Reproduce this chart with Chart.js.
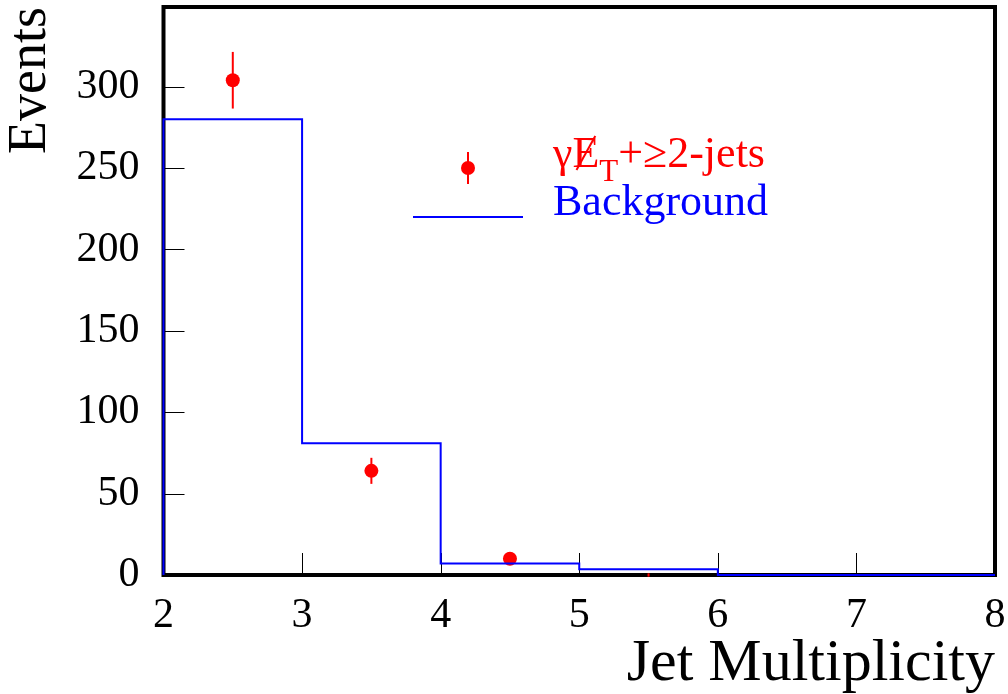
<!DOCTYPE html>
<html>
<head>
<meta charset="utf-8">
<script src="https://cdn.jsdelivr.net/npm/chart.js@4.4.0/dist/chart.umd.min.js"></script>
<style>
  html, body { margin: 0; padding: 0; background: #fff; }
  canvas { display: block; }
</style>
</head>
<body>
<canvas id="chart0" width="1008" height="694"></canvas>
<script>
// histogram bins (jet multiplicity)
const binEdges = [2, 3, 4, 5, 6, 7, 8];
// expected background per bin
const background = [280, 81, 7, 3.5, 0, 0];
// observed events: bin centres, counts, stat. errors
const dataX = [2.5, 3.5, 4.5, 5.5, 6.5, 7.5];
const dataY = [304, 64, 10, 0, 0, 0];
const dataErr = [17.4, 8, 3.2, 1, 0, 0];
// axis ticks
const xTicks = [2, 3, 4, 5, 6, 7, 8];
const yTicks = [0, 50, 100, 150, 200, 250, 300];

const SERIF = "'Liberation Serif', 'Times New Roman', serif";
const RED = '#ff0000';
const BLUE = '#0000ff';

Chart.defaults.font.family = SERIF;
Chart.defaults.color = '#000';

// step line points built from the bins
const bgPoints = [{ x: binEdges[0], y: 0 }];
background.forEach((v, i) => bgPoints.push({ x: binEdges[i], y: v }));
bgPoints.push({ x: binEdges[binEdges.length - 1], y: background[background.length - 1] });

const dataPoints = dataX.map((x, i) => ({ x, y: dataY[i] }));

function noPad(s) {
  s.paddingTop = 0; s.paddingBottom = 0; s.paddingLeft = 0; s.paddingRight = 0;
}

// frame + inward ticks + error bars + legend
const framePlugin = {
  id: 'frame',
  beforeDatasetsDraw(chart) {
    const { ctx, chartArea: a, scales } = chart;
    ctx.save();
    ctx.strokeStyle = '#000';
    ctx.lineWidth = 1;
    xTicks.forEach(v => {
      const px = Math.round(scales.x.getPixelForValue(v)) + 0.5;
      ctx.beginPath();
      ctx.moveTo(px, a.bottom);
      ctx.lineTo(px, a.bottom - 22);
      ctx.stroke();
    });
    yTicks.forEach(v => {
      const py = Math.round(scales.y.getPixelForValue(v)) + 0.5;
      ctx.beginPath();
      ctx.moveTo(a.left, py);
      ctx.lineTo(a.left + 21, py);
      ctx.stroke();
    });
    ctx.lineWidth = 4;
    ctx.strokeRect(a.left, a.top, a.right - a.left, a.bottom - a.top);

    // error bars
    ctx.strokeStyle = RED;
    ctx.lineWidth = 2;
    dataX.forEach((x, i) => {
      if (!dataErr[i]) return;
      const px = scales.x.getPixelForValue(x);
      ctx.beginPath();
      ctx.moveTo(px, scales.y.getPixelForValue(dataY[i] - dataErr[i]));
      ctx.lineTo(px, scales.y.getPixelForValue(dataY[i] + dataErr[i]));
      ctx.stroke();
    });
    ctx.restore();
  },
  afterDraw(chart) {
    const { ctx } = chart;
    ctx.save();
    // legend markers
    ctx.strokeStyle = RED;
    ctx.fillStyle = RED;
    ctx.lineWidth = 2;
    ctx.beginPath();
    ctx.moveTo(468, 152);
    ctx.lineTo(468, 184);
    ctx.stroke();
    ctx.beginPath();
    ctx.arc(468, 168, 7, 0, Math.PI * 2);
    ctx.fill();
    ctx.strokeStyle = BLUE;
    ctx.beginPath();
    ctx.moveTo(413, 217);
    ctx.lineTo(523, 217);
    ctx.stroke();

    // legend text: gamma + missing E_T + >=2 jets
    ctx.textBaseline = 'alphabetic';
    ctx.textAlign = 'left';
    const base = 167;
    let x = 553;
    ctx.font = '44px ' + SERIF;
    ctx.fillText('γ', x, base);
    x += ctx.measureText('γ').width;
    const eW = ctx.measureText('E').width;
    ctx.fillText('E', x, base);
    ctx.strokeStyle = RED;
    ctx.lineWidth = 2;
    ctx.beginPath();
    ctx.moveTo(x + eW * 0.85, base - 31);
    ctx.lineTo(x + eW * 0.15, base + 3);
    ctx.stroke();
    x += eW;
    ctx.font = '31px ' + SERIF;
    ctx.fillText('T', x, base + 14);
    x += ctx.measureText('T').width;
    ctx.font = '44px ' + SERIF;
    ctx.fillText('+≥2-jets', x, base);

    ctx.fillStyle = BLUE;
    ctx.fillText('Background', 553, 215);
    ctx.restore();
  }
};

new Chart(document.getElementById('chart0'), {
  type: 'line',
  data: {
    datasets: [
      {
        label: 'Background',
        data: bgPoints,
        stepped: true,
        borderColor: BLUE,
        borderWidth: 2,
        pointRadius: 0,
        fill: false,
        clip: false
      },
      {
        label: 'Data',
        data: dataPoints,
        showLine: false,
        pointRadius: dataY.map(v => v > 0 ? 7 : 0),
        pointBackgroundColor: RED,
        pointBorderWidth: 0,
        borderColor: RED
      }
    ]
  },
  plugins: [framePlugin],
  options: {
    responsive: false,
    animation: false,
    layout: { padding: { top: 7, right: 13, left: 0, bottom: 0 } },
    plugins: { legend: { display: false }, tooltip: { enabled: false } },
    scales: {
      x: {
        type: 'linear',
        min: 2,
        max: 8,
        grid: { display: false },
        border: { display: false },
        afterBuildTicks: s => { s.ticks = xTicks.map(v => ({ value: v })); },
        afterFit: s => { s.height = 119; noPad(s); },
        ticks: { font: { size: 42 }, padding: 8, maxRotation: 0, autoSkip: false },
        title: {
          display: true,
          text: 'Jet Multiplicity',
          align: 'end',
          font: { size: 60, lineHeight: 1 },
          padding: 0
        }
      },
      y: {
        min: 0,
        max: 349,
        grid: { display: false },
        border: { display: false },
        afterBuildTicks: s => { s.ticks = yTicks.map(v => ({ value: v })); },
        afterFit: s => { s.width = 163.5; noPad(s); },
        ticks: { font: { size: 42 }, padding: 16 },
        title: {
          display: true,
          text: 'Events',
          align: 'end',
          font: { size: 54, lineHeight: 1 },
          padding: { top: 4, bottom: 0 }
        }
      }
    }
  }
});
</script>
</body>
</html>
